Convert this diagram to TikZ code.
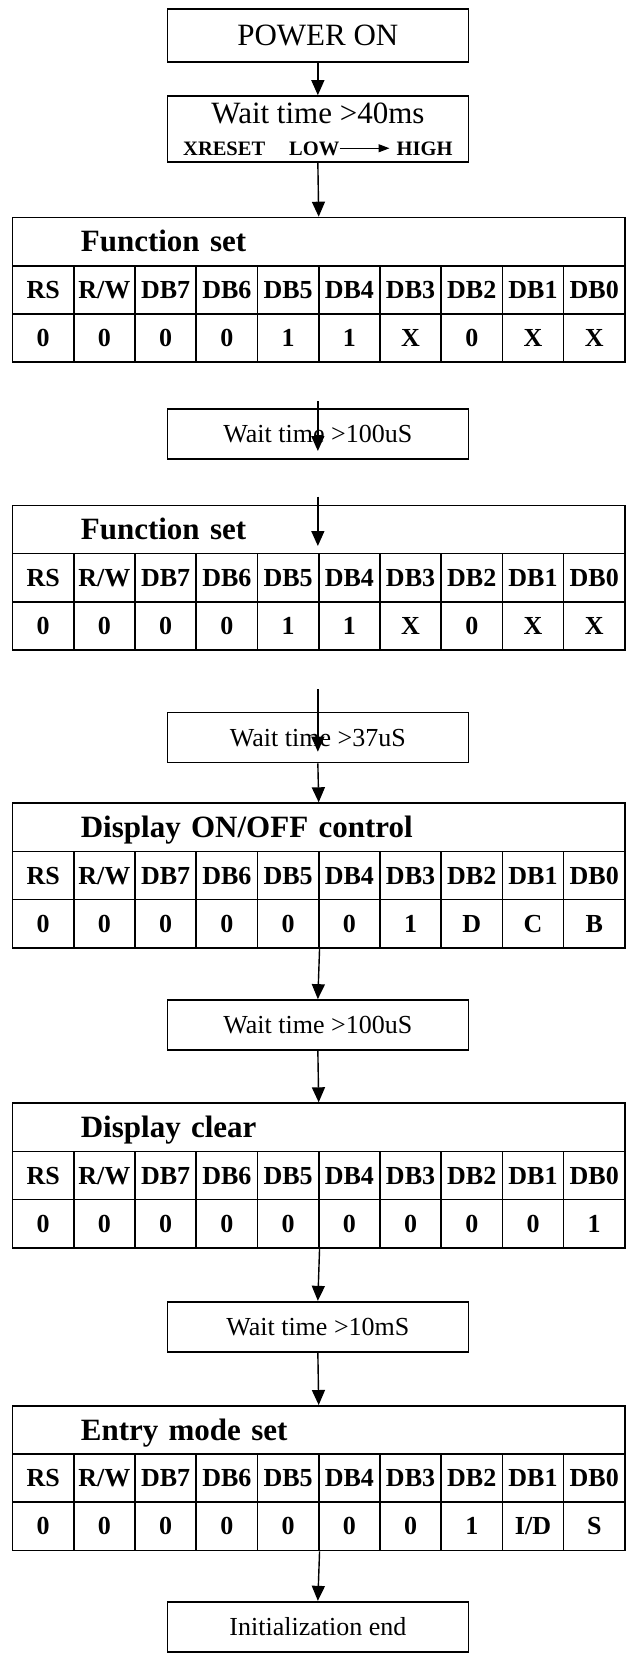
\documentclass[tikz,border=0pt]{standalone}
\usepackage{fontspec}
\setmainfont{Liberation Serif}
\usepackage{tikz}
\usetikzlibrary{positioning, arrows.meta}

\tikzset{
  flowbox/.style={rectangle, draw, line width=1.7pt, minimum width=301pt, minimum height=50pt, inner sep=0pt, font=\fontsize{26}{30}\selectfont, text height=17.2pt, text depth=0pt},
  bigtext/.style={font=\fontsize{31}{36}\selectfont, text height=20.5pt},
  resettext/.style={inner sep=0pt, font=\bfseries\fontsize{20.5}{24}\selectfont, text height=13.5pt, text depth=0pt},
  titlecell/.style={rectangle, draw, line width=1.7pt, anchor=north west, text width=475.7pt, inner xsep=68.3pt, inner ysep=0pt, minimum height=48.2pt, align=left, font=\bfseries\fontsize{31}{36}\selectfont, text height=20.5pt, text depth=0pt},
  bitcell/.style={rectangle, draw, line width=1.7pt, anchor=north west, minimum width=61.23pt, minimum height=48.2pt, inner sep=0pt, font=\bfseries\fontsize{26}{30}\selectfont, text height=17.2pt, text depth=0pt},
  flow/.style={-{Triangle[length=15pt,width=13pt]}, line width=1.4pt},
  smallflow/.style={-{Triangle[length=11pt,width=8pt]}, line width=1.2pt}
}

\begin{document}
\begin{tikzpicture}[x=1pt, y=-1pt]
    \useasboundingbox (0,0) rectangle (628,1655);
    % start boxes
    \node (poweron) at (317.85,35.5) [flowbox, bigtext, minimum height=53pt] {POWER ON};
    \node (wait40)  at (317.85,129)  [flowbox, minimum height=66pt] {};
    \node (wait40txt) at (318,123.3) [bigtext, inner sep=0pt, anchor=base] {Wait time >40ms};
    \node (xreset) at (183,155)   [resettext, anchor=base west] {XRESET};
    \node (low)    at (289,155)   [resettext, anchor=base west] {LOW};
    \node (high)   at (396.5,155) [resettext, anchor=base west] {HIGH};
    \draw[smallflow, shorten >=7pt] (low.east) -- (high.west);
    % command tables
    \foreach \tname/\ty/\ttitle/\tvals in {
        fs1/216.7/Function set/{0,0,0,0,1,1,X,0,X,X},
        fs2/504.5/Function set/{0,0,0,0,1,1,X,0,X,X},
        dispctl/802.3/{Display ON/OFF control}/{0,0,0,0,0,0,1,D,C,B},
        dispclr/1102.3/Display clear/{0,0,0,0,0,0,0,0,0,1},
        entry/1405/Entry mode set/{0,0,0,0,0,0,0,1,I/D,S}} {
      \node (\tname) at (11.7,\ty) [titlecell] {\ttitle};
      \foreach \bit [count=\i] in {RS,R/W,DB7,DB6,DB5,DB4,DB3,DB2,DB1,DB0}
        \node (\tname-h\i) at ({11.7+(\i-1)*61.23},{\ty+48.2}) [bitcell] {\bit};
      \foreach \val [count=\i] in \tvals
        \node (\tname-v\i) at ({11.7+(\i-1)*61.23},{\ty+96.4}) [bitcell] {\val};
    }
    % wait boxes
    \node (wait100a) at (317.85,434)    [flowbox] {Wait time >100uS};
    \node (wait37)   at (317.85,737.5)  [flowbox] {Wait time >37uS};
    \node (wait100b) at (317.85,1025)   [flowbox] {Wait time >100uS};
    \node (wait10)   at (317.85,1326.7) [flowbox] {Wait time >10mS};
    \node (initend)  at (317.85,1626.7) [flowbox] {Initialization end};
    \coordinate (w1) at (317.85,401);   \coordinate (w1e) at (317.85,451);
    \coordinate (w2) at (317.85,496.7); \coordinate (w2e) at (317.85,546);
    \coordinate (w3) at (317.85,689);   \coordinate (w3e) at (317.85,751.7);
    % arrows
    \draw[flow] (poweron.south) -- (wait40.north);
    \draw[flow] (wait40.south) -- (fs1.north);
    \draw[flow] (w1) -- (w1e);
    \draw[flow] (w2) -- (w2e);
    \draw[flow] (w3) -- (w3e);
    \draw[flow] (wait37.south) -- (dispctl.north);
    \draw[flow] (dispctl-v5.south east) -- (wait100b.north);
    \draw[flow] (wait100b.south) -- (dispclr.north);
    \draw[flow] (dispclr-v5.south east) -- (wait10.north);
    \draw[flow] (wait10.south) -- (entry.north);
    \draw[flow] (entry-v5.south east) -- (initend.north);
\end{tikzpicture}
\end{document}
